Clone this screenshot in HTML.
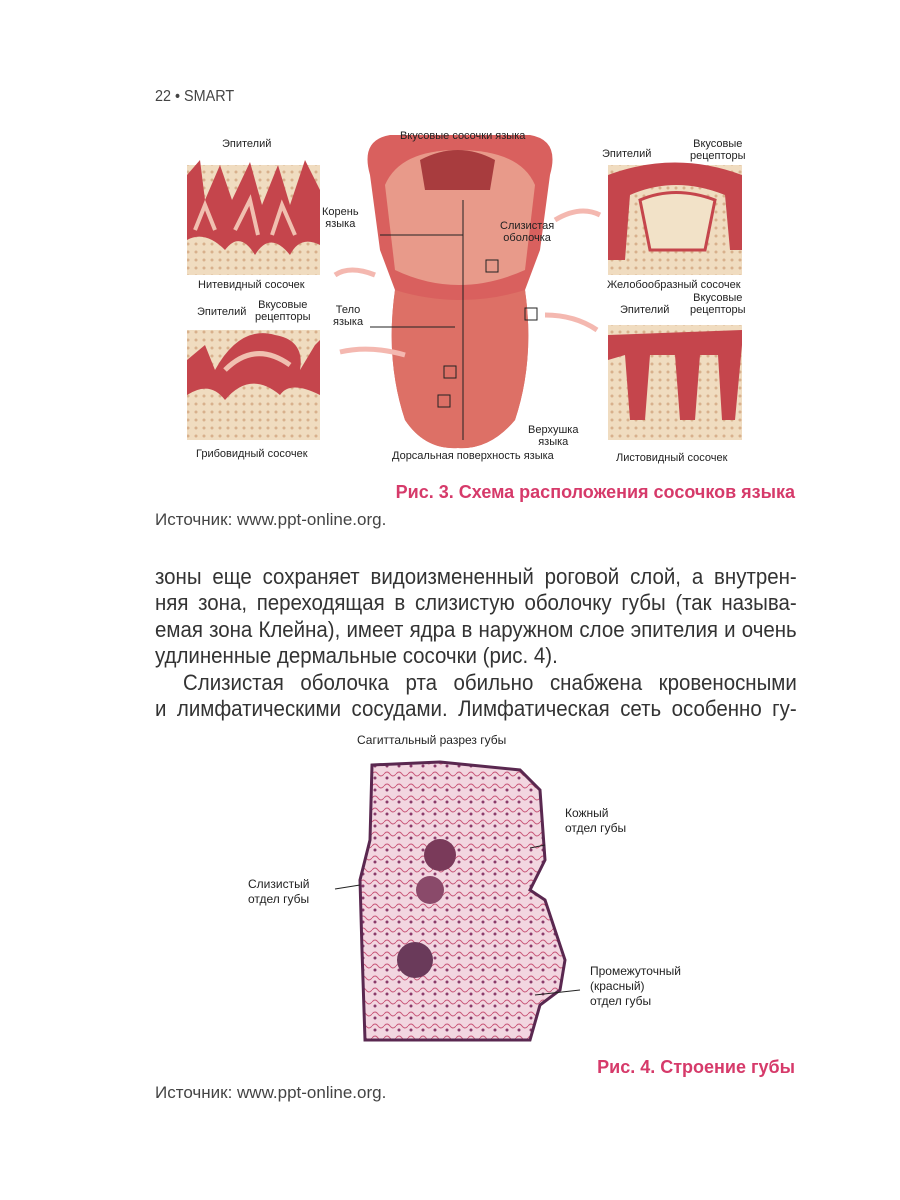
<!DOCTYPE html>
<html><head><meta charset="utf-8"><style>
body{margin:0;background:#fff}
#p{position:relative;width:900px;height:1200px;overflow:hidden;background:#fff;font-family:"Liberation Sans",sans-serif}
.t{position:absolute;white-space:nowrap;color:#222}
.s{font-size:11px;color:#222;line-height:12px;text-align:center}
.ln{position:absolute;left:155px;width:690px;transform:scaleX(0.93);transform-origin:0 0;font-size:22px;color:#333;text-align:justify;text-align-last:justify;white-space:nowrap;line-height:26px}
.cap{position:absolute;font-weight:bold;color:#d63a6a;font-size:18px;white-space:nowrap;text-align:right;right:105px}
.src{position:absolute;left:155px;font-size:17px;color:#444;white-space:nowrap}
</style></head><body><div id="p">
<div class="t" style="left:155px;top:88px;font-size:16px;color:#444;transform:scaleX(0.9);transform-origin:0 0">22 • SMART</div>

<svg width="900" height="1200" style="position:absolute;left:0;top:0">
<defs>
<pattern id="cell" width="8" height="8" patternUnits="userSpaceOnUse"><rect width="8" height="8" fill="#f0dcc0"/><circle cx="4" cy="4" r="1.5" fill="#d8b08c"/></pattern>
<pattern id="lip" width="12" height="12" patternUnits="userSpaceOnUse"><rect width="12" height="12" fill="#f2d6e0"/><path d="M0 6 Q3 2 6 6 T12 6" stroke="#c9587a" fill="none"/><circle cx="3" cy="10" r="1.5" fill="#8a3a6a"/></pattern>
</defs>
<rect x="187" y="165" width="133" height="110" fill="url(#cell)"/>
<path d="M187 240 L187 175 L200 160 L205 200 L220 165 L232 200 L250 162 L262 205 L278 165 L290 205 L305 160 L320 190 L320 245 Q300 235 290 255 Q270 230 255 255 Q240 230 225 250 Q205 230 187 240Z" fill="#c5454c"/>
<path d="M195 230 L205 205 L215 230 M235 230 L250 200 L258 235 M272 235 L282 205 L295 235" stroke="#f0c0b0" stroke-width="4" fill="none"/>
<rect x="187" y="330" width="133" height="110" fill="url(#cell)"/>
<path d="M187 360 L205 345 L215 370 Q240 325 275 335 Q305 340 300 370 L315 345 L320 340 L320 395 Q290 380 280 395 Q250 370 225 400 Q210 380 187 395Z" fill="#c5454c"/>
<path d="M225 370 Q255 340 290 365" stroke="#f0c0b0" stroke-width="5" fill="none"/>
<rect x="608" y="165" width="134" height="110" fill="url(#cell)"/>
<path d="M608 175 Q675 150 742 175 L742 250 L730 250 L725 195 Q675 175 630 195 L625 260 L608 260Z" fill="#c5454c"/>
<path d="M640 200 Q675 185 715 200 L705 250 L650 250Z" fill="#f2e2c8" stroke="#c5454c" stroke-width="3"/>
<rect x="608" y="325" width="134" height="115" fill="url(#cell)"/>
<path d="M608 335 L742 330 L742 345 L735 420 L722 420 L718 355 L700 355 L695 420 L680 420 L675 355 L650 355 L645 420 L630 420 L625 355 L608 360Z" fill="#c5454c"/>
<path d="M370 175 Q360 140 390 135 L530 135 Q560 140 550 175 L540 250 L525 290 Q535 360 515 420 Q490 450 458 448 Q425 450 405 420 Q385 360 395 290 L380 250Z" fill="#d9605e"/>
<path d="M385 185 Q400 150 458 150 Q520 150 535 185 L525 270 Q458 300 395 270Z" fill="#e89a8a"/>
<path d="M420 160 Q458 140 495 160 L490 190 L425 190Z" fill="#a83c3e"/>
<path d="M395 290 Q460 310 525 290 Q535 360 515 420 Q490 450 458 448 Q425 450 405 420 Q385 360 395 290Z" fill="#dd7066"/>
<g stroke="#222" stroke-width="1" fill="none">
<line x1="463" y1="200" x2="463" y2="440"/>
<line x1="380" y1="235" x2="463" y2="235"/>
<line x1="370" y1="327" x2="455" y2="327"/>
<rect x="486" y="260" width="12" height="12"/><rect x="525" y="308" width="12" height="12"/>
<rect x="444" y="366" width="12" height="12"/><rect x="438" y="395" width="12" height="12"/>
</g>
<g stroke="#f4b8b0" stroke-width="5" fill="none">
<path d="M375 275 Q350 265 335 275"/><path d="M405 355 Q370 345 340 352"/>
<path d="M555 220 Q580 205 600 215"/><path d="M545 315 Q575 315 597 330"/>
</g>
<path d="M372 765 L440 762 L520 770 L540 790 L545 860 L530 890 L545 900 L565 960 L560 990 L540 1005 L530 1040 L365 1040 L362 950 L360 880 L370 840Z" fill="url(#lip)" stroke="#5a2850" stroke-width="3"/>
<circle cx="440" cy="855" r="16" fill="#7a3a5a"/><circle cx="415" cy="960" r="18" fill="#6a3a5a"/><circle cx="430" cy="890" r="14" fill="#8a4a6a"/>
<g stroke="#222" fill="none"><path d="M335 889 L360 885"/><path d="M530 848 L545 845"/><path d="M535 995 L580 990"/></g>
</svg>

<div class="t s" style="left:222px;top:138px">Эпителий</div>
<div class="t s" style="left:400px;top:130px">Вкусовые сосочки языка</div>
<div class="t s" style="left:602px;top:148px">Эпителий</div>
<div class="t s" style="left:690px;top:138px">Вкусовые<br>рецепторы</div>
<div class="t s" style="left:322px;top:206px">Корень<br>языка</div>
<div class="t s" style="left:500px;top:220px">Слизистая<br>оболочка</div>
<div class="t s" style="left:198px;top:279px">Нитевидный сосочек</div>
<div class="t s" style="left:607px;top:279px">Желобообразный сосочек</div>
<div class="t s" style="left:197px;top:306px">Эпителий</div>
<div class="t s" style="left:255px;top:299px">Вкусовые<br>рецепторы</div>
<div class="t s" style="left:333px;top:304px">Тело<br>языка</div>
<div class="t s" style="left:620px;top:304px">Эпителий</div>
<div class="t s" style="left:690px;top:292px">Вкусовые<br>рецепторы</div>
<div class="t s" style="left:528px;top:424px">Верхушка<br>языка</div>
<div class="t s" style="left:196px;top:448px">Грибовидный сосочек</div>
<div class="t s" style="left:392px;top:450px">Дорсальная поверхность языка</div>
<div class="t s" style="left:616px;top:452px">Листовидный сосочек</div>

<div class="cap" style="top:482px">Рис. 3. Схема расположения сосочков языка</div>
<div class="src" style="top:510px">Источник: www.ppt-online.org.</div>

<div class="ln" style="top:564px">зоны еще сохраняет видоизмененный роговой слой, а внутрен-</div>
<div class="ln" style="top:590px">няя зона, переходящая в слизистую оболочку губы (так называ-</div>
<div class="ln" style="top:617px">емая зона Клейна), имеет ядра в наружном слое эпителия и очень</div>
<div class="ln" style="top:643px;text-align-last:left">удлиненные дермальные сосочки (рис. 4).</div>
<div class="ln" style="top:670px;left:183px;width:660px">Слизистая оболочка рта обильно снабжена кровеносными</div>
<div class="ln" style="top:696px">и лимфатическими сосудами. Лимфатическая сеть особенно гу-</div>

<div class="t" style="left:357px;top:733px;font-size:12px">Сагиттальный разрез губы</div>
<div class="t" style="left:565px;top:806px;font-size:12px;line-height:15px">Кожный<br>отдел губы</div>
<div class="t" style="left:248px;top:877px;font-size:12px;line-height:15px">Слизистый<br>отдел губы</div>
<div class="t" style="left:590px;top:964px;font-size:12px;line-height:15px">Промежуточный<br>(красный)<br>отдел губы</div>

<div class="cap" style="top:1057px">Рис. 4. Строение губы</div>
<div class="src" style="top:1083px">Источник: www.ppt-online.org.</div>
</div></body></html>
